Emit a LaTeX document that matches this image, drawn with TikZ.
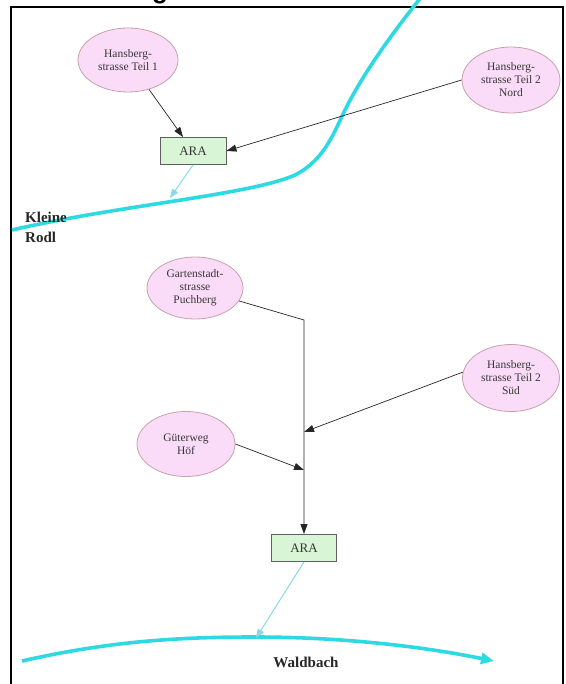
\documentclass[tikz,border=0pt]{standalone}
\usepackage{fontspec}
\setmainfont{Liberation Serif}
\newfontfamily\headfont{Liberation Sans}
\usetikzlibrary{arrows.meta,shapes.geometric}

\definecolor{rivercol}{RGB}{45,218,226}
\definecolor{outflow}{RGB}{135,218,228}
\definecolor{placefill}{RGB}{250,220,248}
\definecolor{placeline}{RGB}{200,160,170}
\definecolor{plantfill}{RGB}{216,245,214}
\definecolor{plantline}{RGB}{95,95,95}
\definecolor{txt}{RGB}{55,55,55}

\tikzset{
  place/.style={ellipse, draw=placeline, fill=placefill, line width=0.8pt,
    inner sep=0pt, align=center, text=txt,
    font=\fontsize{11.5}{13}\selectfont},
  plant/.style={rectangle, draw=plantline, fill=plantfill, line width=0.9pt,
    minimum width=66pt, minimum height=27pt, inner sep=0pt, text=txt,
    font=\fontsize{13}{15}\selectfont},
  flow/.style={draw=black!85, line width=0.7pt, -{Triangle[length=10pt,width=7pt]}},
  drain/.style={draw=outflow, line width=1pt, -{Triangle[length=9pt,width=7pt]}},
  river/.style={draw=rivercol, line width=3.6pt},
  riverlabel/.style={font=\bfseries\fontsize{15}{20}\selectfont, text=black!85, inner sep=0pt}
}

\begin{document}
\begin{tikzpicture}[x=1pt,y=-1pt]
\useasboundingbox (0,0) rectangle (565,684);

% heading, mostly outside the page
\begin{scope}
  \clip (0,0) rectangle (565,684);
  \node[anchor=base, inner sep=0pt, font=\headfont\bfseries\fontsize{26}{30}\selectfont] (hd) at (160,-1) {g};
\end{scope}

% frame
\draw[line width=2pt] (11,690) -- (11,7) -- (563,7) -- (563,690);

% rivers
\draw[river] (12,230) .. controls (120,205) and (250,195) .. (295,175)
  .. controls (325,160) and (335,130) .. (345,110)
  .. controls (365,70) and (395,30) .. (422,-4);
\coordinate (r1) at (170,198);
\draw[river, -{Triangle[length=13pt,width=11pt]}] (22,661) .. controls (110,641) and (180,637) .. (255,637)
  .. controls (340,637) and (420,646) .. (494,661);
\coordinate (r2) at (256,638);

% names of the streams
\node[riverlabel, anchor=base west] (kr1) at (25,223) {Kleine};
\node[riverlabel, anchor=base west] (kr2) at (25,243) {Rodl};
\node[riverlabel, anchor=base] (wb) at (306,667) {Waldbach};

% upper catchment
\node[place, minimum width=100pt, minimum height=64pt] (t1) at (128,60) {Hansberg-\\strasse Teil 1};
\node[place, minimum width=98pt, minimum height=66pt] (t2n) at (511,80) {Hansberg-\\strasse Teil 2\\Nord};
\node[plant] (ara1) at (193,151) {ARA};

\draw[flow] (t1) -- (ara1);
\draw[flow] (t2n.west) -- (ara1.east);
\draw[drain] (ara1.south) -- (r1);

% lower catchment
\node[place, minimum width=96pt, minimum height=62pt] (gp) at (195,288) {Gartenstadt-\\strasse\\Puchberg};
\node[place, minimum width=97pt, minimum height=67pt] (t2s) at (511,378) {Hansberg-\\strasse Teil 2\\Süd};
\node[place, minimum width=98pt, minimum height=65pt] (gh) at (186,444) {Güterweg\\Höf};
\node[plant, minimum width=65pt] (ara2) at (304,548) {ARA};

\coordinate (j1) at (304,320);
\coordinate (j2) at (304,432);
\coordinate (j3) at (304,470);

\draw[flow] (gp) -- (j1) -- (ara2.north);
\draw[flow] (t2s.173) -- (j2);
\draw[flow] (gh.east) -- (j3);
\draw[drain] (ara2.south) -- (r2);
\end{tikzpicture}
\end{document}
